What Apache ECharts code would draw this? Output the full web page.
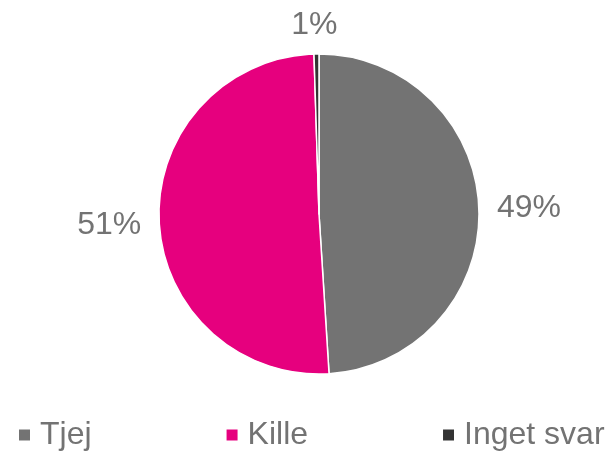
<!DOCTYPE html>
<html lang="sv">
<head>
    <meta charset="UTF-8">
    <title>Kön</title>
    <script src="https://cdn.jsdelivr.net/npm/echarts@6/dist/echarts.min.js"></script>
    <style type="text/css">
        html, body {
            margin: 0;
            padding: 0;
            width: 607px;
            height: 454px;
            background: #fff;
        }
        #chart {
            width: 607px;
            height: 454px;
        }
    </style>
</head>
<body>
<div id="chart"></div>
<script type="text/javascript">
    // kategorier och andelar (procent)
    var categories = ['Tjej', 'Kille', 'Inget svar'];
    var values = [49.0, 50.5, 0.5];
    var colors = ['#737373', '#e6007e', '#333333'];

    var textColor = '#737373';
    var fontName = '"Liberation Sans", Arial, sans-serif';

    var pieData = [];
    for (var i = 0; i < categories.length; i++) {
        pieData.push({name: categories[i], value: values[i]});
    }

    var myChart = echarts.init(document.getElementById('chart'));
    var option = {
        animation: false,
        color: colors,
        textStyle: {fontFamily: fontName},
        legend: {
            left: 19,
            top: 419,
            padding: 0,
            itemWidth: 11,
            itemHeight: 11,
            itemGap: 135,
            icon: 'rect',
            data: categories,
            itemStyle: {borderWidth: 0},
            textStyle: {
                fontSize: 32,
                color: textColor,
                fontFamily: fontName,
                padding: [0, 0, 0, 5]
            }
        },
        series: [
            {
                type: 'pie',
                center: [319, 214],
                radius: 160,
                startAngle: 90,
                clockwise: true,
                avoidLabelOverlap: false,
                data: pieData,
                itemStyle: {
                    borderColor: '#fff',
                    borderWidth: 1.5
                },
                label: {
                    show: true,
                    position: 'outside',
                    fontSize: 32,
                    color: textColor,
                    fontFamily: fontName,
                    formatter: function (p) {
                        return Math.round(p.value) + '%';
                    }
                },
                labelLine: {
                    show: false,
                    length: 13,
                    length2: 0
                },
                labelLayout: function (p) {
                    // minsta tårtbiten: etiketten centrerad ovanför
                    if (p.dataIndex === 2) {
                        return {align: 'center', verticalAlign: 'bottom', dx: 3};
                    }
                    if (p.dataIndex === 1) {
                        return {dy: 3};
                    }
                    return {};
                },
                emphasis: {disabled: true}
            }
        ]
    };
    myChart.setOption(option);
</script>
</body>
</html>
